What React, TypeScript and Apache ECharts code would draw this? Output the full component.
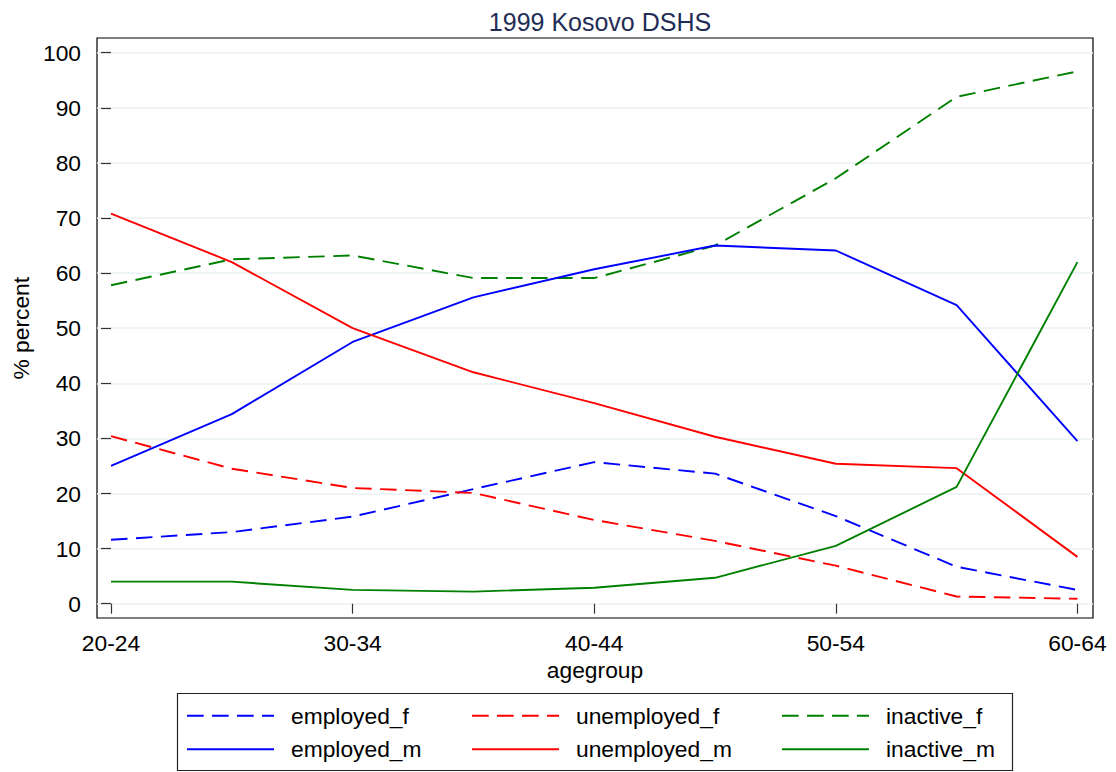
import React, { useEffect, useRef } from "react";
import * as echarts from "echarts";

const categories = ["20-24", "25-29", "30-34", "35-39", "40-44", "45-49", "50-54", "55-59", "60-64"];
const employedF = [11.6, 13.0, 15.8, 20.8, 25.7, 23.6, 15.9, 6.7, 2.5];
const employedM = [25.0, 34.4, 47.5, 55.6, 60.7, 65.0, 64.1, 54.2, 29.5];
const unemployedF = [30.4, 24.5, 21.0, 20.1, 15.2, 11.4, 6.9, 1.3, 0.9];
const unemployedM = [70.8, 62.0, 50.0, 42.0, 36.4, 30.3, 25.4, 24.6, 8.5];
const inactiveF = [57.8, 62.5, 63.2, 59.1, 59.1, 65.0, 77.2, 92.0, 96.6];
const inactiveM = [4.0, 4.0, 2.5, 2.2, 2.9, 4.7, 10.5, 21.2, 62.0];
const labelIdx = [0, 2, 4, 6, 8];

const FONT = "Liberation Sans, Arial, Helvetica, sans-serif";
const FS = 22.8;
const DASH_ICON = "path://M0,0H16.7V2H0Z M25,0H41.7V2H25Z M50,0H66.7V2H50Z M75,0H87V2H75Z";
const SOLID_ICON = "path://M0,0H87V2H0Z";

function mk(name: string, vals: number[], color: string, dashed: boolean) {
  return {
    name,
    type: "line",
    data: vals.map((v, i) => [i, v]),
    symbol: "none",
    showSymbol: false,
    lineStyle: { color, width: 1.9, type: dashed ? [16.5, 8.5] : "solid" },
    itemStyle: { color },
    emphasis: { disabled: true },
  };
}

export default function App() {
  const ref = useRef<HTMLDivElement>(null);
  useEffect(() => {
    if (!ref.current) return;
    const chart = echarts.init(ref.current, null, { renderer: "svg" });
    const legendCommon = {
      orient: "vertical",
      itemWidth: 87,
      itemHeight: 2,
      itemGap: 9.6,
      symbolKeepAspect: false,
      textStyle: { fontSize: FS, lineHeight: 24, color: "#000", fontFamily: FONT, padding: [0, 0, 0, 12] },
      padding: 0,
    };
    const li = (name: string, dashed: boolean) => ({ name, icon: dashed ? DASH_ICON : SOLID_ICON });
    chart.setOption({
      animation: false,
      title: {
        text: "1999 Kosovo DSHS",
        left: 595,
        textAlign: "center",
        top: 4,
        textStyle: { color: "#1f2d56", fontSize: 25, fontWeight: "normal", fontFamily: FONT },
      },
      grid: { left: 97, right: 23, top: 52.7, bottom: 168.3, containLabel: false, outerBoundsMode: "none" },
      xAxis: {
        type: "value",
        min: -0.116,
        max: 8.129,
        offset: 14.3,
        name: "agegroup",
        nameLocation: "middle",
        nameGap: 32,
        nameTextStyle: { fontSize: FS, color: "#000", fontFamily: FONT },
        axisLine: { show: false },
        axisTick: { show: true, length: 10, customValues: labelIdx, lineStyle: { color: "#333", width: 1.2 } },
        axisLabel: {
          customValues: labelIdx,
          formatter: (v: number) => categories[Math.round(v)],
          fontSize: FS,
          color: "#000",
          fontFamily: FONT,
          margin: 13,
        },
        splitLine: { show: false },
      },
      yAxis: {
        type: "value",
        min: 0,
        max: 100,
        interval: 10,
        name: "% percent",
        nameLocation: "middle",
        nameRotate: 90,
        nameGap: 64,
        nameTextStyle: { fontSize: FS, color: "#000", fontFamily: FONT },
        axisLine: { show: false },
        axisTick: { show: true, length: 10, lineStyle: { color: "#333", width: 1.2 } },
        axisLabel: {
          fontSize: FS,
          color: "#000",
          fontFamily: FONT,
          margin: 16,
        },
        splitLine: { show: true, lineStyle: { color: "#eaf2f3", width: 1.5 } },
      },
      legend: [
        { ...legendCommon, left: 187, top: 703.7, data: [li("employed_f", true), li("employed_m", false)] },
        { ...legendCommon, left: 472, top: 703.7, data: [li("unemployed_f", true), li("unemployed_m", false)] },
        { ...legendCommon, left: 782, top: 703.7, data: [li("inactive_f", true), li("inactive_m", false)] },
      ],
      graphic: [
        {
          type: "rect",
          shape: { x: 97, y: 38, width: 996, height: 580 },
          style: { fill: "none", stroke: "#000", lineWidth: 1.2 },
          silent: true,
        },
        {
          type: "rect",
          shape: { x: 177.5, y: 693.5, width: 835, height: 77 },
          style: { fill: "none", stroke: "#222", lineWidth: 1.2 },
          silent: true,
        },
      ],
      series: [
        mk("employed_f", employedF, "#0000ff", true),
        mk("unemployed_f", unemployedF, "#ff0000", true),
        mk("inactive_f", inactiveF, "#008000", true),
        mk("employed_m", employedM, "#0000ff", false),
        mk("unemployed_m", unemployedM, "#ff0000", false),
        mk("inactive_m", inactiveM, "#008000", false),
      ],
    });
    return () => chart.dispose();
  }, []);
  return (
    <div
      ref={ref}
      style={{ position: "absolute", left: 0, top: 0, width: 1116, height: 772, background: "#fff" }}
    />
  );
}
